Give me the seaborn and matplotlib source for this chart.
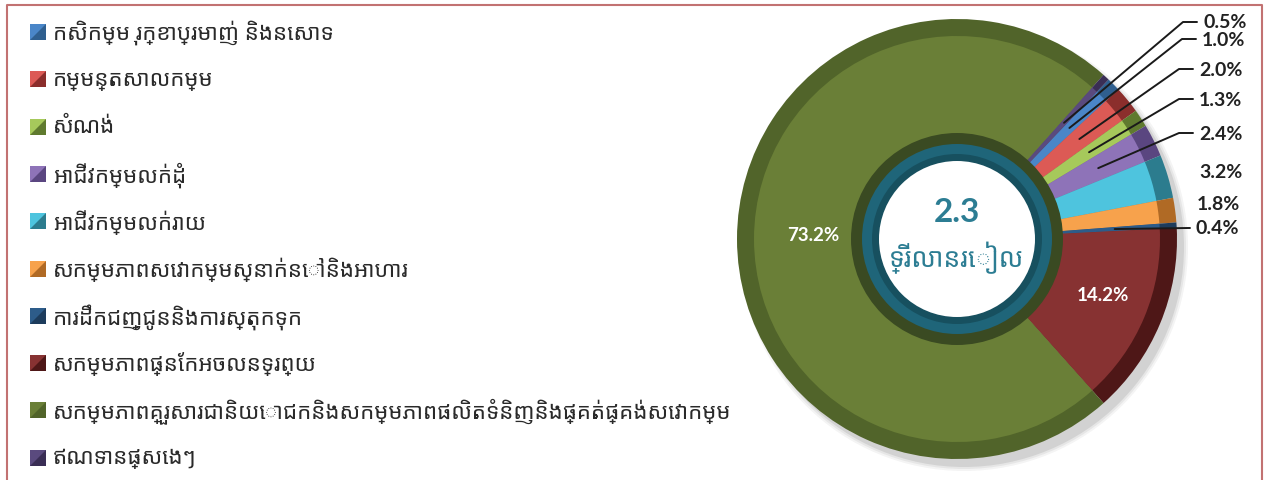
import matplotlib.pyplot as plt
import matplotlib.patches as mpatches
import numpy as np
import seaborn as sns

# legend order (pie is drawn clockwise in this same order)
categories = [
    "កសិកម្ម រុក្ខាប្រមាញ់ និងនេសាទ",
    "កម្មន្តសាលកម្ម",
    "សំណង់",
    "អាជីវកម្មលក់ដុំ",
    "អាជីវកម្មលក់រាយ",
    "សកម្មភាពសេវាកម្មស្នាក់នៅនិងអាហារ",
    "ការដឹកជញ្ជូននិងការស្តុកទុក",
    "សកម្មភាពផ្នែកអចលនទ្រព្យ",
    "សកម្មភាពគ្រួសារជានិយោជកនិងសកម្មភាពផលិតទំនិញនិងផ្គត់ផ្គង់សេវាកម្ម",
    "ឥណទានផ្សេងៗ",
]
shares = [1.0, 2.0, 1.3, 2.4, 3.2, 1.8, 0.4, 14.2, 73.2, 0.5]
face_colors = ["#4a86c8", "#dc5a55", "#a6c95b", "#8e73b8", "#4ec4de",
               "#f7a24c", "#2d5c8a", "#873232", "#6a7f37", "#5a4a7e"]
rim_colors = ["#2f5f8f", "#8b2e2c", "#5f7a2f", "#5a4680", "#2c7c8e",
              "#b06a25", "#1d3c5c", "#4e1717", "#51642a", "#3a2e55"]
total_label = "2.3"
unit_label = "ទ្រីលានរៀល"

# right-hand labels: slice index, label position in pixels, leader line or not
side_idx = [9, 0, 1, 2, 3, 4, 5, 6]
side_pos = [(1203, 23), (1202, 40), (1199, 70), (1199, 100), (1199, 134),
            (1199, 172), (1197, 204), (1196, 229)]
side_leader = [True, True, True, True, True, False, False, True]

W, H = 1266, 481
CX, CY, R = 957, 241, 220
khmer = ["Noto Sans Khmer", "Khmer OS", "Noto Sans", "DejaVu Sans"]
latin = ["Lato", "DejaVu Sans"]

sns.set_theme(style="white")
plt.rcParams["font.family"] = khmer

fig = plt.figure(figsize=(W / 100, H / 100), dpi=100)
ax = fig.add_axes([0, 0, 1, 1])


def py(y):
    return H - y


# soft drop shadow towards the lower right
for k, a in [(4, 0.06), (2, 0.08), (0, 0.12)]:
    ax.add_patch(mpatches.Circle((CX + 7, CY - 8), R + k, color="#444444", alpha=a, lw=0))

start = 48.25 - shares[-1] * 3.6
# darker rim, then the face on top
ax.pie(shares, colors=rim_colors, radius=R, center=(CX, CY), startangle=start,
       counterclock=False, wedgeprops=dict(linewidth=0), frame=True)
wedges, _ = ax.pie(shares, colors=face_colors, radius=R - 17, center=(CX, CY),
                   startangle=start, counterclock=False,
                   wedgeprops=dict(linewidth=0), frame=True)
ax.set_xlim(0, W)
ax.set_ylim(0, H)
ax.set_aspect("equal")
ax.axis("off")

# centre ring
ax.add_patch(mpatches.Circle((CX, CY), 106, color="#3a4a22", lw=0))
ax.add_patch(mpatches.Circle((CX, CY), 95, color="#1f6579", lw=0))
ax.add_patch(mpatches.Circle((CX, CY), 85, color="#17505f", lw=0))
ax.add_patch(mpatches.Circle((CX, CY), 78, color="white", lw=0))
ax.text(CX, py(213), total_label, ha="center", va="center", fontsize=24,
        fontweight="bold", color="#2c7d93", family=latin)
ax.text(CX, py(258), unit_label, ha="center", va="center", fontsize=19,
        color="#2c7d93")


def mid_point(w, r):
    t = np.deg2rad((w.theta1 + w.theta2) / 2)
    return CX + r * np.cos(t), CY + r * np.sin(t)


# big slices labelled inside
for i, r in [(8, 144), (7, 158)]:
    x, y = mid_point(wedges[i], r)
    ax.text(x, y + 5, f"{shares[i]:.1f}%", ha="center", va="center", color="white",
            fontsize=13.5, fontweight="bold", family=latin)

# small slices labelled on the right
for i, (lx, ly), lead in zip(side_idx, side_pos, side_leader):
    ax.text(lx, py(ly), f"{shares[i]:.1f}%", ha="left", va="center", color="#222222",
            fontsize=14, fontweight="bold", family=latin)
    if lead:
        x, y = mid_point(wedges[i], 158)
        hx = lx - 20 if i != 6 else lx - 8
        ax.plot([lx - 6, hx, x], [py(ly), py(ly), y], color="#1a1a1a", lw=1.4)

# legend column
for k, name in enumerate(categories):
    y = py(33 + k * 47.3)
    ax.add_patch(mpatches.Rectangle((30, y - 8), 16, 16, color=face_colors[k], lw=0))
    ax.add_patch(mpatches.Polygon([[30, y - 8], [46, y - 8], [46, y + 8]],
                                  color=rim_colors[k], lw=0))
    ax.text(53, y, name, ha="left", va="center", fontsize=16, color="#2a2a2a")

# frame
ax.plot([7, 7, 1262, 1262], [0, py(6), py(6), 0], color="#c27272", lw=1.5)

fig.savefig("out.png", dpi=100)
